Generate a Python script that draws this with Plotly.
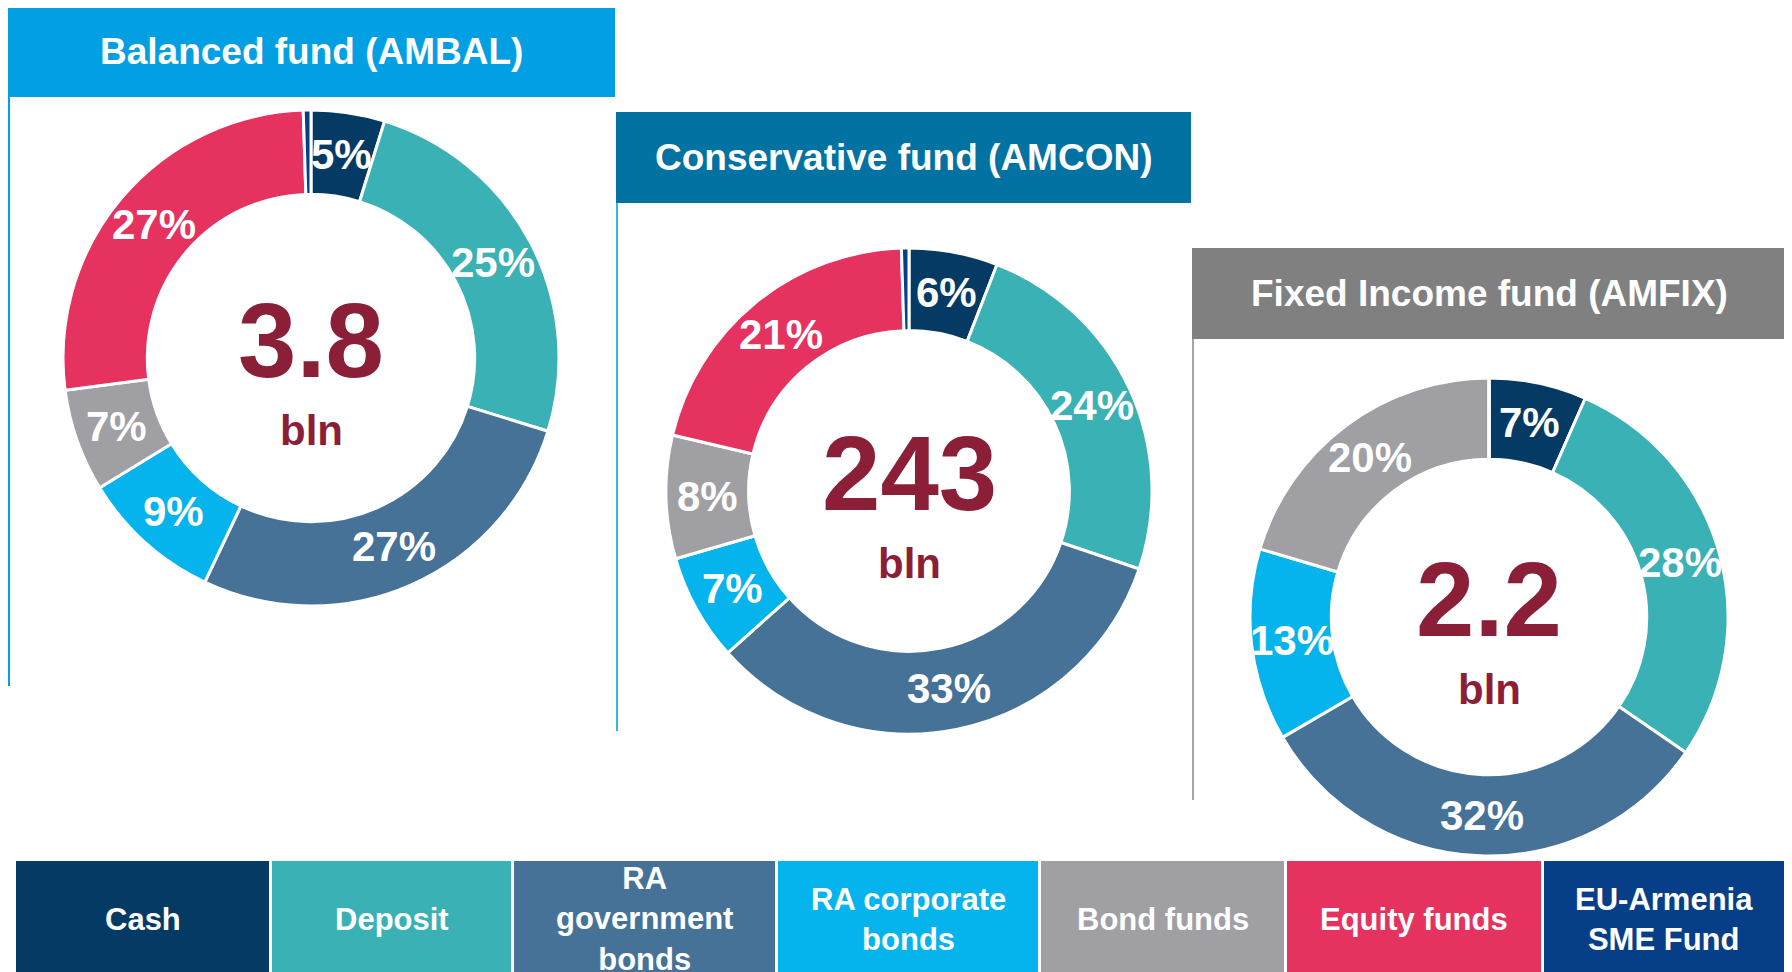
import math
import plotly.graph_objects as go

# asset classes (clockwise from 12 o'clock)
categories = ['Cash', 'Deposit', 'RA government bonds', 'RA corporate bonds',
              'Bond funds', 'Equity funds', 'EU-Armenia SME Fund']
legend_labels = ['Cash', 'Deposit', 'RA<br>government<br>bonds', 'RA corporate<br>bonds',
                 'Bond funds', 'Equity funds', 'EU-Armenia<br>SME Fund']
colors = ['#043A63', '#3AB1B5', '#467297', '#05B4EC', '#A0A0A4', '#E5325E', '#063F87']

fund_names = ['Balanced fund (AMBAL)', 'Conservative fund (AMCON)', 'Fixed Income fund (AMFIX)']
fund_totals = ['3.8', '243', '2.2']
fund_units = ['bln', 'bln', 'bln']

# shares in %
ambal = [4.8, 25.0, 27.3, 9.2, 6.7, 26.6, 0.5]
amcon = [5.9, 24.3, 33.2, 7.1, 8.2, 20.8, 0.5]
amfix = [6.6, 28.0, 32.0, 13.0, 20.4, 0, 0]
fund_values = [ambal, amcon, amfix]

W, H = 1792, 972
OFF = 8  # the page body adds an 8px margin round the figure
HOLE = 0.66
header_colors = ['#02A0E2', '#0172A1', '#808080']
# pixel boxes: header (x0, x1, y0, y1), left rule bottom, donut centre and radius
headers = [(8, 615, 6, 97), (616, 1191, 112, 203), (1192, 1786, 248, 339)]
rule_bottom = [686, 731, 800]
rule_colors = ['#02A0E2', '#35B6E6', '#A6A6A6']
donuts = [(311, 358, 248), (909, 491, 243), (1489, 617, 239)]
legend_edges = [15, 271, 513, 777, 1040, 1286, 1543, 1786]


def px_x(v):
    return (v - OFF) / W


def px_y(v):
    return 1 - (v - OFF) / H


fig = go.Figure()
shapes = []
annotations = []

for i, vals in enumerate(fund_values):
    cx, cy, r = donuts[i]
    fig.add_trace(go.Pie(
        labels=categories,
        values=vals,
        sort=False,
        direction='clockwise',
        rotation=0,
        hole=HOLE,
        marker=dict(colors=colors, line=dict(color='white', width=3)),
        textinfo='none',
        domain=dict(x=[px_x(cx - r), px_x(cx + r)], y=[px_y(cy + r), px_y(cy - r)]),
        showlegend=False,
        hoverinfo='label+percent',
    ))

    # percentage labels at the middle of each slice
    total = sum(vals)
    rm = r * (1 + HOLE) / 2
    cum = 0
    for v in vals:
        if v >= 1:
            ang = 2 * math.pi * (cum + v / 2) / total
            annotations.append(dict(
                text=f'{round(100 * v / total)}%', xref='paper', yref='paper',
                x=px_x(cx + rm * math.sin(ang)), y=px_y(cy - rm * math.cos(ang)),
                xanchor='center', yanchor='middle', showarrow=False,
                font=dict(family='Liberation Sans, Arial', size=42,
                          color='white', weight='bold')))
        cum += v

    x0, x1, y0, y1 = headers[i]
    shapes.append(dict(type='rect', xref='paper', yref='paper',
                       x0=px_x(x0), x1=px_x(x1), y0=px_y(y1), y1=px_y(y0),
                       fillcolor=header_colors[i], line=dict(width=0), layer='below'))
    shapes.append(dict(type='line', xref='paper', yref='paper',
                       x0=px_x(x0 + 1), x1=px_x(x0 + 1), y0=px_y(y1), y1=px_y(rule_bottom[i]),
                       line=dict(color=rule_colors[i], width=2)))
    annotations.append(dict(text=fund_names[i], xref='paper', yref='paper',
                            x=px_x((x0 + x1) / 2), y=px_y((y0 + y1) / 2),
                            xanchor='center', yanchor='middle', showarrow=False,
                            font=dict(family='Liberation Sans, Arial', size=37,
                                      color='white', weight='bold')))
    annotations.append(dict(text=fund_totals[i], xref='paper', yref='paper',
                            x=px_x(cx), y=px_y(cy), yshift=18,
                            xanchor='center', yanchor='middle', showarrow=False,
                            font=dict(family='Liberation Sans, Arial', size=105,
                                      color='#8C1F38', weight='bold')))
    annotations.append(dict(text=fund_units[i], xref='paper', yref='paper',
                            x=px_x(cx), y=px_y(cy), yshift=-72,
                            xanchor='center', yanchor='middle', showarrow=False,
                            font=dict(family='Liberation Sans, Arial', size=42,
                                      color='#8C1F38', weight='bold')))

# colour key along the bottom
for j, lab in enumerate(legend_labels):
    x0, x1 = legend_edges[j] + 1, legend_edges[j + 1] - 2
    shapes.append(dict(type='rect', xref='paper', yref='paper',
                       x0=px_x(x0), x1=px_x(x1), y0=0, y1=px_y(861),
                       fillcolor=colors[j], line=dict(width=0)))
    annotations.append(dict(text=lab, xref='paper', yref='paper',
                            x=px_x((x0 + x1) / 2), y=px_y(919),
                            xanchor='center', yanchor='middle', showarrow=False,
                            font=dict(family='Liberation Sans Narrow, Arial Narrow, Liberation Sans',
                                      size=31, color='white', weight='bold')))

fig.update_layout(
    width=W,
    height=H,
    margin=dict(l=0, r=0, t=0, b=0),
    paper_bgcolor='white',
    plot_bgcolor='white',
    shapes=shapes,
    annotations=annotations,
)

fig.write_html("out.html")
